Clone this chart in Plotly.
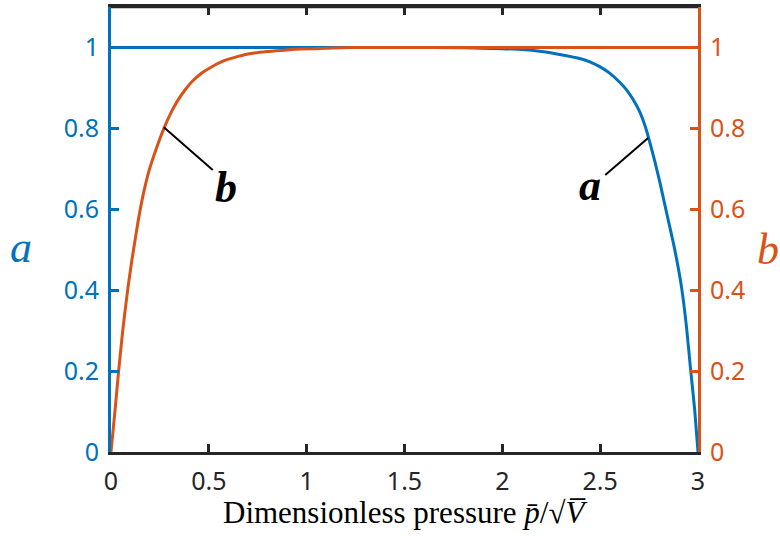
import plotly.graph_objects as go

# ---- data ----
x_a = [0, 0.5, 1.0, 1.5, 1.8, 2.0, 2.1, 2.2, 2.3, 2.4, 2.45, 2.5, 2.55, 2.6, 2.635,
       2.67, 2.703, 2.73, 2.75, 2.78, 2.805, 2.83, 2.856, 2.88, 2.915, 2.941, 2.961, 2.983, 3.0]
a_vals = [1, 1, 1, 1, 0.999, 0.997, 0.995, 0.990, 0.982, 0.972, 0.964, 0.952, 0.936, 0.914, 0.895,
          0.870, 0.840, 0.805, 0.772, 0.717, 0.667, 0.612, 0.556, 0.503, 0.41, 0.31, 0.21, 0.105, 0]

x_b = [0, 0.022, 0.039, 0.06, 0.085, 0.107, 0.13, 0.145, 0.17, 0.196, 0.23, 0.272, 0.31, 0.34,
       0.38, 0.417, 0.459, 0.5, 0.536, 0.561, 0.6, 0.65, 0.714, 0.8, 0.9, 0.969, 1.1, 1.22, 1.5, 2.0, 2.5, 3.0]
b_vals = [0, 0.11, 0.20, 0.30, 0.40, 0.475, 0.545, 0.588, 0.648, 0.698, 0.748, 0.802, 0.842, 0.868,
          0.896, 0.917, 0.935, 0.948, 0.958, 0.964, 0.971, 0.978, 0.985, 0.990, 0.994, 0.996, 0.998, 1.0, 1.0, 1.0, 1.0, 1.0]

x_ticks = [0, 0.5, 1, 1.5, 2, 2.5, 3]
x_ticklabels = ["0", "0.5", "1", "1.5", "2", "2.5", "3"]
y_ticks = [0, 0.2, 0.4, 0.6, 0.8, 1]
y_ticklabels = ["0", "0.2", "0.4", "0.6", "0.8", "1"]

BLUE = "#0072BD"
ORANGE = "#D95319"
DARK = "#262626"
TICKFONT = "Noto Sans"
SERIF = "Liberation Serif"

fig = go.Figure()
fig.add_trace(go.Scatter(x=x_a, y=a_vals, mode="lines",
                         line=dict(color=BLUE, width=3, shape="spline", smoothing=0.6),
                         yaxis="y", showlegend=False))
fig.add_trace(go.Scatter(x=x_b, y=b_vals, mode="lines",
                         line=dict(color=ORANGE, width=3, shape="spline", smoothing=0.6),
                         yaxis="y2", showlegend=False))

fig.update_layout(
    width=780, height=546,
    margin=dict(l=111, r=82, t=7, b=94),
    plot_bgcolor="white", paper_bgcolor="white",
    xaxis=dict(range=[0, 3], tickvals=x_ticks, ticktext=x_ticklabels, automargin=False,
               showline=True, linecolor=DARK, linewidth=2.5, mirror="ticks",
               ticks="inside", ticklen=8, tickwidth=2.5, tickcolor=DARK,
               showgrid=False, zeroline=False,
               tickfont=dict(family=TICKFONT, size=25, color=DARK),
               ticklabelstandoff=5),
    yaxis=dict(range=[0, 1.1], tickvals=y_ticks, ticktext=y_ticklabels, automargin=False,
               showline=True, linecolor=BLUE, linewidth=3,
               ticks="inside", ticklen=8, tickwidth=2.5, tickcolor=BLUE,
               showgrid=False, zeroline=False,
               tickfont=dict(family=TICKFONT, size=25, color=BLUE),
               ticklabelstandoff=4),
    yaxis2=dict(range=[0, 1.1], tickvals=y_ticks, ticktext=y_ticklabels, automargin=False,
                overlaying="y", side="right", anchor="x",
                showline=True, linecolor=ORANGE, linewidth=3,
                ticks="inside", ticklen=8, tickwidth=2.5, tickcolor=ORANGE,
                showgrid=False, zeroline=False,
                tickfont=dict(family=TICKFONT, size=25, color=ORANGE),
                ticklabelstandoff=4),
)

# top border of the box
fig.add_shape(type="line", xref="paper", yref="paper", x0=0, x1=1, y0=1, y1=1,
              line=dict(color=DARK, width=2.5), layer="above")

# leader lines
fig.add_shape(type="line", xref="x", yref="y", x0=0.27, y0=0.803, x1=0.52, y1=0.697,
              line=dict(color="black", width=2))
fig.add_shape(type="line", xref="x", yref="y", x0=2.745, y0=0.776, x1=2.526, y1=0.685,
              line=dict(color="black", width=2))

ann = [
    dict(x=0.59, y=0.655, xref="x", yref="y", text="<b><i>b</i></b>", showarrow=False,
         xanchor="center", yanchor="middle",
         font=dict(family=SERIF, size=44, color="black")),
    dict(x=2.449, y=0.66, xref="x", yref="y", text="<b><i>a</i></b>", showarrow=False,
         xanchor="center", yanchor="middle",
         font=dict(family=SERIF, size=44, color="black")),
    dict(x=-0.153, y=0.46, xref="paper", yref="paper", text="<i>a</i>", showarrow=False,
         xanchor="center", yanchor="middle",
         font=dict(family=SERIF, size=44, color=BLUE)),
    dict(x=1.119, y=0.455, xref="paper", yref="paper", text="<i>b</i>", showarrow=False,
         xanchor="center", yanchor="middle",
         font=dict(family=SERIF, size=44, color=ORANGE)),
    dict(x=0.5, y=-0.137, xref="paper", yref="paper",
         text="Dimensionless pressure <i>p̄</i>/√<i>V̅</i>", showarrow=False,
         xanchor="center", yanchor="middle",
         font=dict(family=SERIF, size=31, color="black")),
]
fig.update_layout(annotations=ann)

fig.write_html("out.html", config={"displayModeBar": False},
               post_script="document.body.style.margin='0px';")
